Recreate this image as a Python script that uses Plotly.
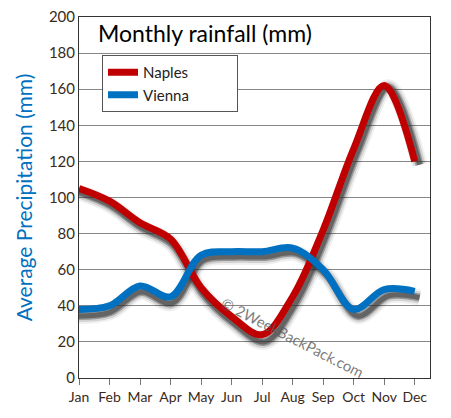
import plotly.graph_objects as go

months = ["Jan", "Feb", "Mar", "Apr", "May", "Jun", "Jul", "Aug", "Sep", "Oct", "Nov", "Dec"]
naples = [105, 98, 86, 77, 50, 34, 24, 45, 82, 127, 162, 120]
vienna = [38, 40, 51, 45, 68, 70, 70, 72, 60, 38, 49, 48]
yticks = [0, 20, 40, 60, 80, 100, 120, 140, 160, 180, 200]

# page body adds an 8px margin, so the figure is drawn 8px in from the top-left
OFF = 8
TOP, BOT, LEFT, RIGHT = 17, 378, 79, 430   # plot area in page pixels
W, H = 451 - 2 * OFF, 418 - 2 * OFF
L, R, T, B = LEFT - OFF, 451 - OFF - RIGHT, TOP - OFF, 418 - OFF - BOT
pw, ph = W - L - R, H - T - B
xmax = 11.5
kx = pw / xmax
ky = ph / 200
dx, dy = 5, 8

font = "Lato, 'Open Sans', sans-serif"
pad = "\u00a0" * 11
fig = go.Figure()

# shadows (drawn on overlay axes shifted a few pixels right and down)
for vals in (naples, vienna):
    for w, c in ((16, "rgba(0,0,0,0.06)"), (12, "rgba(0,0,0,0.12)"), (8, "rgba(40,40,40,0.35)"), (5, "rgba(50,50,50,0.5)")):
        fig.add_trace(go.Scatter(x=months, y=vals, mode="lines", line=dict(color=c, width=w, shape="spline", smoothing=1.0),
                                 xaxis="x2", yaxis="y2", showlegend=False, hoverinfo="skip"))

fig.add_trace(go.Scatter(x=months, y=naples, name="Naples" + pad, mode="lines", legendgroup="n",
                         xaxis="x3", yaxis="y3",
                         line=dict(color="#C00000", width=7, shape="spline", smoothing=1.0)))
fig.add_trace(go.Scatter(x=months, y=vienna, name="Vienna" + pad, mode="lines", legendgroup="v",
                         xaxis="x3", yaxis="y3",
                         line=dict(color="#0070C0", width=7, shape="spline", smoothing=1.0)))
# anchor trace for primary axes
fig.add_trace(go.Scatter(x=months, y=[None] * len(months), mode="lines", showlegend=False, hoverinfo="skip"))

fig.update_layout(
    width=W, height=H,
    margin=dict(l=L, r=R, t=T, b=B),
    paper_bgcolor="white", plot_bgcolor="white",
    font=dict(family=font, color="#222"),
    xaxis=dict(type="category", categoryorder="array", categoryarray=months, range=[0, xmax],
               showgrid=False, showline=True, linecolor="#333", mirror=True, ticks="outside",
               tickcolor="#777", ticklen=6, tickfont=dict(size=14, color="#3a2a1a"), zeroline=False,
               automargin=False, ticklabeloverflow="allow"),
    yaxis=dict(range=[0, 200], tickvals=yticks, showgrid=True, gridcolor="#888", gridwidth=1,
               showline=True, linecolor="#333", mirror=True, ticks="", tickfont=dict(size=15, color="#3a2a1a"),
               zeroline=False, automargin=False, ticklabeloverflow="allow",
               title=dict(text="Average Precipitation (mm)", font=dict(size=21, color="#0070C0"), standoff=10)),
    xaxis2=dict(type="category", categoryorder="array", categoryarray=months, overlaying="x",
                domain=[dx / pw, 1], range=[0, xmax - dx / kx], visible=False, anchor="y2"),
    yaxis2=dict(overlaying="y", domain=[0, 1 - dy / ph], range=[dy / ky, 200], visible=False, anchor="x2"),
    xaxis3=dict(type="category", categoryorder="array", categoryarray=months, overlaying="x",
                range=[0, xmax], visible=False, anchor="y3"),
    yaxis3=dict(overlaying="y", range=[0, 200], visible=False, anchor="x3"),
    legend=dict(x=(102 - LEFT) / pw, y=(BOT - 55) / ph, xanchor="left", yanchor="top",
                bgcolor="white", bordercolor="#555", borderwidth=1, font=dict(size=15, color="#222"),
                itemwidth=30, tracegroupgap=0),
    showlegend=True,
    annotations=[
        dict(text="Monthly rainfall (mm)", xref="paper", yref="paper", x=(96 - LEFT) / pw, y=(BOT - 17) / ph,
             xanchor="left", yanchor="top", showarrow=False, font=dict(size=23, color="black")),
        dict(text="© 2WeekBackPack.com", xref="paper", yref="paper", x=(292 - LEFT) / pw, y=(BOT - 337) / ph,
             xanchor="center", yanchor="middle", showarrow=False, textangle=27,
             font=dict(size=15, color="rgba(90,90,90,0.8)")),
    ],
)

fig.write_html("out.html")
